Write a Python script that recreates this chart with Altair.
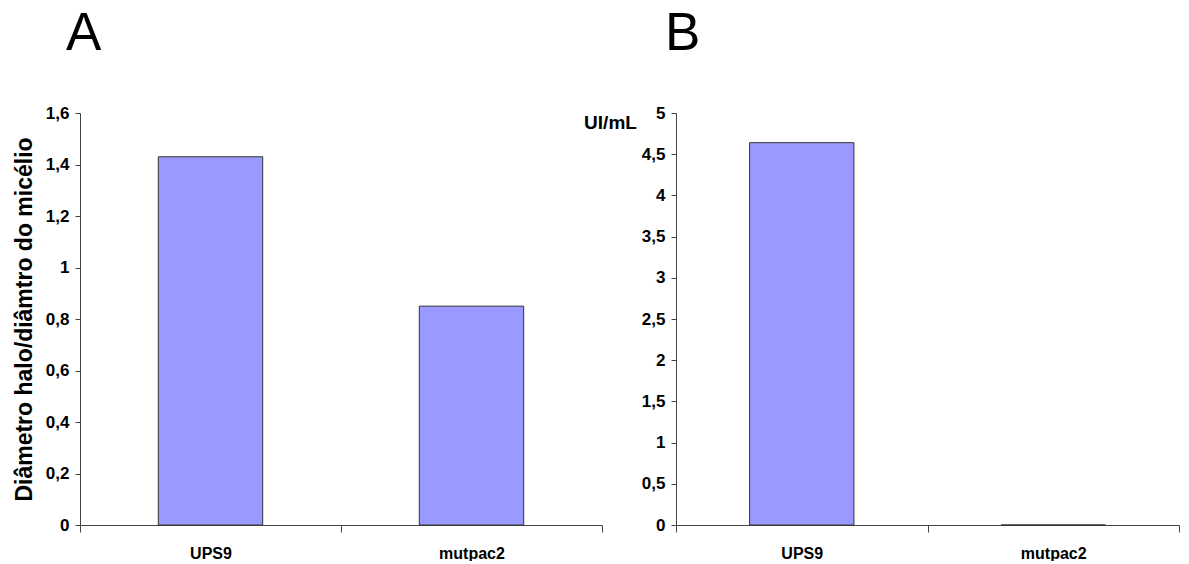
import altair as alt
import pandas as pd

categories = ["UPS9", "mutpac2"]
halo_ratio = [1.43, 0.85]
activity_ui_ml = [4.64, 0.0]
ticks_a = [0, 0.2, 0.4, 0.6, 0.8, 1.0, 1.2, 1.4, 1.6]
ticks_b = [0, 0.5, 1, 1.5, 2, 2.5, 3, 3.5, 4, 4.5, 5]
title_a = "Diâmetro halo/diâmtro do micélio"
title_b = "UI/mL"

FONT = "Liberation Sans"
LABEL_EXPR = "replace(format(datum.value, '~g'), '.', ',')"
AX = "#444444"


def panel(values, letter, ymax, ticks, width, bar_frac, title_dx, yaxis):
    df = pd.DataFrame({"cat": categories, "val": values})
    x = alt.X(
        "cat:N",
        sort=categories,
        scale=alt.Scale(paddingInner=0, paddingOuter=0),
        axis=alt.Axis(
            title=None,
            labelAngle=0,
            tickBand="extent",
            tickSize=7,
            labelPadding=13,
            labelFont=FONT,
            labelFontSize=16,
            labelFontWeight="bold",
            labelColor="black",
            domainColor=AX,
            tickColor=AX,
        ),
    )
    y = alt.Y(
        "val:Q",
        scale=alt.Scale(domain=[0, ymax], nice=False, zero=True),
        axis=yaxis,
    )
    return (
        alt.Chart(df)
        .mark_bar(width=alt.RelativeBandSize(bar_frac), color="#9999FF",
                  stroke="#333333", strokeWidth=1)
        .encode(x=x, y=y)
        .properties(
            width=width,
            height=412,
            title=alt.TitleParams(
                letter, anchor="start", frame="group", dx=title_dx,
                fontSize=53, fontWeight="normal", font=FONT,
                baseline="alphabetic", offset=1, color="black",
            ),
        )
    )


common_y = dict(
    grid=False,
    tickSize=5,
    labelPadding=6,
    labelExpr=LABEL_EXPR,
    labelFont=FONT,
    labelFontSize=17,
    labelFontWeight="bold",
    labelColor="black",
    domainColor=AX,
    tickColor=AX,
    titleFont=FONT,
    titleFontWeight="bold",
    titleColor="black",
)

yaxis_a = alt.Axis(values=ticks_a, title=title_a, titleFontSize=23,
                   titlePadding=9, **common_y)
yaxis_b = alt.Axis(values=ticks_b, title=title_b, titleFontSize=19,
                   titleAngle=0, titleX=-66, titleY=15, titleAlign="center",
                   titleBaseline="alphabetic", **common_y)

a = panel(halo_ratio, "A", 1.6, ticks_a, 522, 0.4, -14, yaxis_a)
b = panel(activity_ui_ml, "B", 5, ticks_b, 503, 0.415, -11, yaxis_b)

chart = (
    alt.hconcat(a, b, spacing=74, bounds="flush")
    .properties(padding={"left": 5, "top": 0, "right": 0, "bottom": 0},
                background="white")
    .configure_view(stroke=None)
)

chart.save("out.html", embed_options={"renderer": "svg", "actions": False})
